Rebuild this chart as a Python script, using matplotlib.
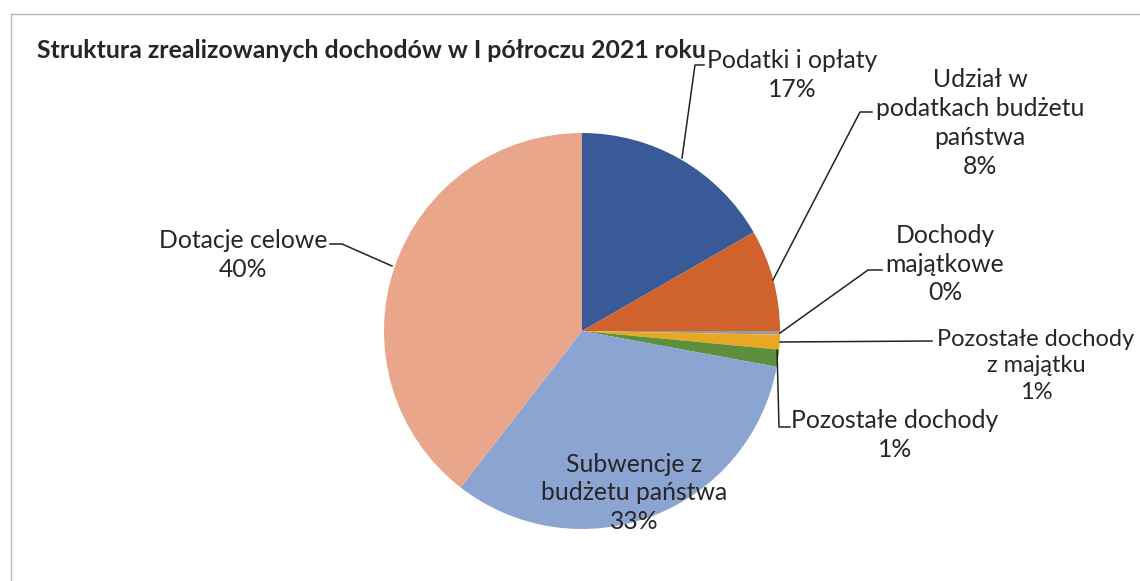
import matplotlib
matplotlib.use("Agg")
import matplotlib.pyplot as plt

# ---- data ----
title = "Struktura zrealizowanych dochodów w I półroczu 2021 roku"
categories = [
    "Podatki i opłaty",
    "Udział w\npodatkach budżetu\npaństwa",
    "Dochody\nmajątkowe",
    "Pozostałe dochody\nz majątku",
    "Pozostałe dochody",
    "Subwencje z\nbudżetu państwa",
    "Dotacje celowe",
]
values = [16.7, 8.3, 0.3, 1.2, 1.4, 32.6, 39.5]
colors = ["#3A5A97", "#D0622E", "#9A9A9A", "#E9A823", "#5E8F3C", "#8CA4D2", "#E9A68A"]

W, H = 1140, 581
plt.rcParams['font.family'] = ['Lato', 'DejaVu Sans']

fig = plt.figure(figsize=(W / 100, H / 100), dpi=100)
ax = fig.add_axes([0, 0, 1, 1])

def Y(y):
    return H - y

cx, cy, r = 582, 331, 198
ax.pie(values, colors=colors, startangle=90, counterclock=False,
       center=(cx, Y(cy)), radius=r, wedgeprops=dict(linewidth=0),
       frame=True)
ax.set_xlim(0, W)
ax.set_ylim(0, H)
ax.set_aspect('equal')
ax.axis('off')

# border of chart area
ax.plot([10.5, 10.5], [Y(14), Y(581)], color="#B8B8B8", lw=1)
ax.plot([10.5, 1140], [Y(14), Y(14)], color="#B8B8B8", lw=1)

total = sum(values)
pct = [f"{round(v / total * 100):.0f}%" for v in values]

fs = 17.8
tc = "#262626"
label_pos = [
    (792, 75), (980, 123), (945, 264), (1036, 366), (895, 435), (634, 493), (243, 255),
]
label_fs = [fs, fs, fs, 17.0, fs, fs, fs]
for (x, y), cat, p, f in zip(label_pos, categories, pct, label_fs):
    ax.text(x, Y(y), f"{cat}\n{p}", ha='center', va='center', fontsize=f,
            color=tc, linespacing=1.3)

# leader lines (pixel coords)
leaders = [
    [(704, 65), (695, 65), (682, 158)],
    [(872, 112), (860, 112), (773, 280)],
    [(882, 270), (868, 270), (780, 333)],
    [(932, 341), (780, 342)],
    [(790, 427), (779, 427), (777, 350)],
    [(330, 244), (342, 244), (392, 266)],
]
for pts in leaders:
    xs = [p[0] for p in pts]
    ys = [Y(p[1]) for p in pts]
    ax.plot(xs, ys, color="#222222", lw=1.1)

ax.text(37, Y(50), title, ha='left', va='center', fontsize=17.9, fontweight='bold',
        color="#262626")

fig.savefig("out.png", dpi=100)
